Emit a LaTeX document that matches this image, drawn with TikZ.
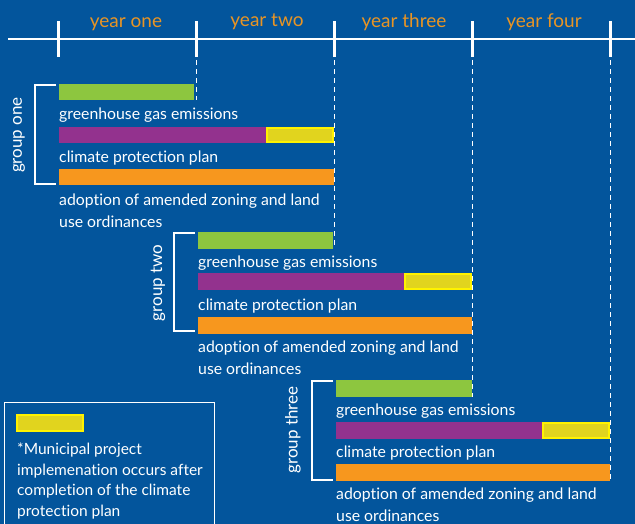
\documentclass[tikz,border=0pt]{standalone}
\usepackage{fontspec}
\setmainfont{Lato}[Ligatures={NoCommon}]
\definecolor{bgblue}{RGB}{3,85,156}
\definecolor{ggreen}{RGB}{141,198,63}
\definecolor{gpurple}{RGB}{147,50,142}
\definecolor{gorange}{RGB}{247,151,30}
\definecolor{gyellowfill}{RGB}{225,212,30}
\definecolor{gyellowline}{RGB}{255,242,0}
\definecolor{yearorange}{RGB}{232,148,36}
\tikzset{
  bar/.style={inner sep=0pt, outer sep=0pt, minimum height=16.5pt, anchor=north west, draw=none},
  hilite/.style={inner sep=0pt, outer sep=0pt, minimum height=14.5pt, anchor=north east, fill=gyellowfill, draw=gyellowline, line width=2pt},
  lbl/.style={anchor=base west, inner sep=0pt, text=white, font=\fontsize{15.8}{21.5}\selectfont},
  yearlbl/.style={text=yearorange, font=\fontsize{19}{22}\selectfont, inner sep=0pt},
  grouplbl/.style={text=white, rotate=90, font=\fontsize{17}{18}\selectfont, inner sep=0pt},
  dashline/.style={white, line width=1pt, dash pattern=on 5pt off 4pt},
  bracket/.style={white, line width=2.5pt},
  tick/.style={white, line width=3pt},
}
\begin{document}
\begin{tikzpicture}[x=1pt,y=-1pt]
\fill[bgblue] (0,0) rectangle (635,524);
\useasboundingbox (0,0) rectangle (635,524);
% timeline
\coordinate (tl0) at (8,39);
\coordinate (tl1) at (635,39);
\draw[white, line width=2.5pt] (tl0) -- (tl1);
\foreach \x/\n in {58/1,196/2,334/3,472/4,610/5}{
  \coordinate (tt\n) at (\x,21);
  \coordinate (tb\n) at (\x,57);
  \draw[tick] (tt\n) -- (tb\n);
}
\node[yearlbl] (y1) at (126,24) {year one};
\node[yearlbl] (y2) at (267,22) {year two};
\node[yearlbl] (y3) at (404,22) {year three};
\node[yearlbl] (y4) at (544,22) {year four};

% group one
\node[bar, fill=ggreen, minimum width=135pt] (g1) at (59,84) {};
\node[bar, fill=gpurple, minimum width=275pt] (p1) at (59,127) {};
\node[hilite, minimum width=66pt] (h1) at (333,128) {};
\node[bar, fill=gorange, minimum width=275pt] (o1) at (59,169) {};
\node[lbl] (gl1) at (59,120) {greenhouse gas emissions};
\node[lbl] (pl1) at (59,163) {climate protection plan};
\node[lbl, align=left] (ol1) at (59,227) {adoption of amended zoning and land\\use ordinances};
\draw[bracket] (56,85) -- (35,85) -- (35,184) -- (56,184);
\node[grouplbl] (grp1) at (19,135) {group one};

% group two
\node[bar, fill=ggreen, minimum width=135pt] (g2) at (198,232) {};
\node[bar, fill=gpurple, minimum width=274pt] (p2) at (198,273) {};
\node[hilite, minimum width=66pt] (h2) at (471,274) {};
\node[bar, fill=gorange, minimum width=274pt] (o2) at (198,317) {};
\node[lbl] (gl2) at (198,267) {greenhouse gas emissions};
\node[lbl] (pl2) at (198,310) {climate protection plan};
\node[lbl, align=left] (ol2) at (198,374) {adoption of amended zoning and land\\use ordinances};
\draw[bracket] (195,233) -- (174,233) -- (174,331) -- (195,331);
\node[grouplbl] (grp2) at (158,283) {group two};

% group three
\node[bar, fill=ggreen, minimum width=136pt] (g3) at (336,380) {};
\node[bar, fill=gpurple, minimum width=274pt] (p3) at (336,422) {};
\node[hilite, minimum width=66pt] (h3) at (609,423) {};
\node[bar, fill=gorange, minimum width=274pt] (o3) at (336,464) {};
\node[lbl] (gl3) at (336,415) {greenhouse gas emissions};
\node[lbl] (pl3) at (336,457) {climate protection plan};
\node[lbl, align=left] (ol3) at (336,521) {adoption of amended zoning and land\\use ordinances};
\draw[bracket] (333,381) -- (312,381) -- (312,480) -- (333,480);
\node[grouplbl] (grp3) at (293,430) {group three};

% dashed guides
\coordinate (d2) at (196,60);
\coordinate (d3) at (334,60);
\coordinate (d4) at (472,60);
\coordinate (d5) at (610,60);
\draw[dashline] (d2) -- (d2 |- g1.south);
\draw[dashline] (d3) -- (d3 |- g2.south);
\draw[dashline] (d4) -- (d4 |- g3.south);
\draw[dashline] (d5) -- (d5 |- o3.south);

% legend
\draw[white, line width=1pt] (4,402) rectangle (214,530);
\node[hilite, anchor=north west, minimum width=66pt, minimum height=16pt] (lg) at (17,415) {};
\node[lbl, align=left, font=\fontsize{15.5}{20.5}\selectfont] (lgt) at (17,516) {*Municipal project\\implemenation occurs after\\completion of the climate\\protection plan};
\end{tikzpicture}
\end{document}
